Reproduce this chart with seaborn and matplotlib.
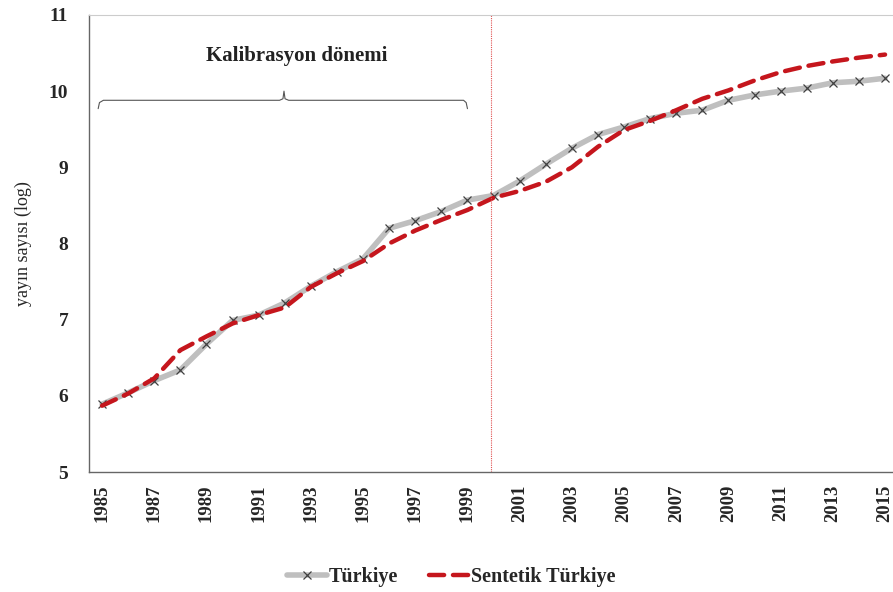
import pandas as pd
import matplotlib.pyplot as plt
import seaborn as sns

# Veriler
years = list(range(1985, 2016))
turkiye = [5.89, 6.04, 6.20, 6.34, 6.68, 6.99, 7.06, 7.22, 7.44, 7.63, 7.80,
           8.20, 8.30, 8.42, 8.57, 8.63, 8.82, 9.04, 9.25, 9.43, 9.53, 9.64,
           9.71, 9.75, 9.88, 9.95, 10.00, 10.04, 10.11, 10.13, 10.17]
sentetik = [5.87, 6.03, 6.23, 6.60, 6.78, 6.95, 7.06, 7.16, 7.43, 7.61, 7.77,
            8.00, 8.17, 8.31, 8.44, 8.60, 8.69, 8.81, 9.00, 9.27, 9.49, 9.61,
            9.75, 9.90, 10.01, 10.14, 10.25, 10.33, 10.39, 10.44, 10.48]
xtick_years = list(range(1985, 2016, 2))

df = pd.DataFrame({'Yil': years, 'Türkiye': turkiye, 'Sentetik Türkiye': sentetik})

sns.set_style('white')
plt.rcParams['font.family'] = ['Liberation Serif', 'DejaVu Serif']

fig = plt.figure(figsize=(8.93, 5.92), dpi=100)
ax = fig.add_axes([0.0997, 0.2027, 0.906, 0.772])

sns.lineplot(x='Yil', y='Türkiye', data=df, ax=ax, color='#BFBFBF', linewidth=4,
             marker='x', markersize=6, markeredgecolor='#404040', markeredgewidth=0.9,
             label='Türkiye')
sns.lineplot(x='Yil', y='Sentetik Türkiye', data=df, ax=ax, color='#C5161D', linewidth=3.2,
             label='Sentetik Türkiye')
ln = ax.lines[-1]
ln.set_dashes([3.4, 2.0])
ln.set_dash_capstyle('round')

# Kalibrasyon dönemi çizgisi ve parantez
ax.axvline(1999.9, color='#E05050', linewidth=0.8, linestyle=(0, (1, 1)))
br_x = [1984.85, 1984.9, 1985.05, 1991.8, 1991.93, 1991.97, 1992.01, 1992.15, 1998.85, 1998.95, 1999.0]
br_y = [9.77, 9.85, 9.88, 9.88, 9.90, 10.0, 9.90, 9.88, 9.88, 9.85, 9.77]
ax.plot(br_x, br_y, color='#555555', linewidth=0.8)
ax.text(1992.47, 10.46, 'Kalibrasyon dönemi', ha='center', va='center',
        fontsize=15, fontweight='bold', color='#222222')

ax.set_xlim(1984.5, 2015.5)
ax.set_ylim(5, 11)
ax.set_xticks(xtick_years)
ax.set_xticklabels([str(y) for y in xtick_years], rotation=90, fontsize=13.5, fontweight='bold')
ax.set_yticks(range(5, 12))
ax.set_yticklabels([str(v) for v in range(5, 12)], fontsize=14, fontweight='bold')
ax.tick_params(axis='y', length=0, pad=15)
ax.tick_params(axis='x', length=0, pad=9)
ax.set_xlabel('')
ax.set_ylabel('yayın sayısı (log)', fontsize=13, labelpad=12)

for s in ['left', 'bottom']:
    ax.spines[s].set_color('#666666')
    ax.spines[s].set_linewidth(1)
ax.spines['top'].set_color('#CCCCCC')
ax.spines['right'].set_visible(False)

ax.legend_.remove()
handles, labels = ax.get_legend_handles_labels()
fig.legend(handles, labels, loc='center', bbox_to_anchor=(0.505, 0.025), ncol=2, frameon=False,
           prop={'weight': 'bold', 'size': 14.5}, handlelength=2.0, handletextpad=0.1, columnspacing=1.5)

fig.savefig('out.png', dpi=100)
